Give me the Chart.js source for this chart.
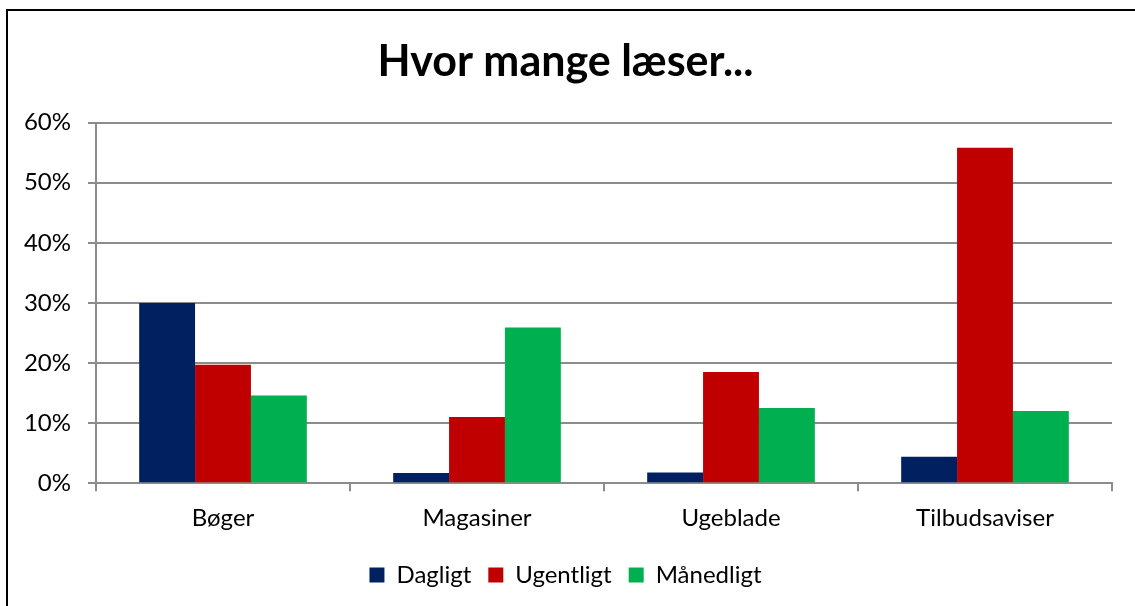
<!DOCTYPE html>
<html>
<head>
<meta charset="utf-8">
<script src="https://cdn.jsdelivr.net/npm/chart.js@4/dist/chart.umd.min.js"></script>
<style>
  html, body { margin: 0; padding: 0; background: #fff; }
  #wrap { position: relative; width: 1135px; height: 606px; }
  #frame { position: absolute; left: 6px; top: 9px; width: 1200px; height: 700px;
           border-left: 2px solid #000; border-top: 2px solid #000; pointer-events: none; }
</style>
</head>
<body>
<div id="wrap">
  <canvas id="reportChart" width="1135" height="606"></canvas>
  <div id="frame"></div>
</div>
<script>
var categories = ['Bøger', 'Magasiner', 'Ugeblade', 'Tilbudsaviser'];
var dagligt    = [30.0, 1.7, 1.8, 4.4];
var ugentligt  = [19.7, 11.0, 18.5, 55.8];
var maanedligt = [14.6, 25.9, 12.5, 12.0];
var yTicks = [0, 10, 20, 30, 40, 50, 60];

var font = 'Lato, "Open Sans", sans-serif';
var gridColor = '#8c8c8c';

const data = {
  labels: categories,
  datasets: [{
    label: 'Dagligt',
    backgroundColor: '#002060',
    data: dagligt
  },
  {
    label: 'Ugentligt',
    backgroundColor: '#C00000',
    data: ugentligt
  },
  {
    label: 'Månedligt',
    backgroundColor: '#00B050',
    data: maanedligt
  }]
};

const config = {
  type: 'bar',
  data: data,
  options: {
    responsive: false,
    animation: false,
    layout: { padding: { left: 19, right: 23, top: 0, bottom: 9 } },
    datasets: { bar: { categoryPercentage: 0.66, barPercentage: 1.0 } },
    plugins: {
      title: {
        display: true,
        text: 'Hvor mange læser...',
        color: '#000',
        font: { family: font, size: 43, weight: 'bold' },
        padding: { top: 36, bottom: 35 }
      },
      legend: {
        position: 'bottom',
        labels: {
          color: '#000',
          font: { family: font, size: 24 },
          boxWidth: 15,
          boxHeight: 15,
          padding: 17
        }
      },
      tooltip: { enabled: false }
    },
    scales: {
      x: {
        grid: { display: true, drawOnChartArea: false, drawTicks: true, tickLength: 8, offset: true, color: gridColor, lineWidth: 2 },
        border: { display: true, color: gridColor, width: 2 },
        ticks: { color: '#000', font: { family: font, size: 24 }, padding: 13 }
      },
      y: {
        min: 0,
        max: 60,
        afterFit: function(scale) { scale.width = 77; },
        afterBuildTicks: function(scale) {
          scale.ticks = yTicks.map(function(v) { return { value: v }; });
        },
        grid: { color: gridColor, lineWidth: 2, tickLength: 8 },
        border: { display: true, color: gridColor, width: 2 },
        ticks: {
          color: '#000',
          font: { family: font, size: 24 },
          padding: 17,
          callback: function(v) { return v + '%'; }
        }
      }
    }
  }
};

var reportChart = new Chart(document.getElementById('reportChart'), config);
</script>
</body>
</html>
